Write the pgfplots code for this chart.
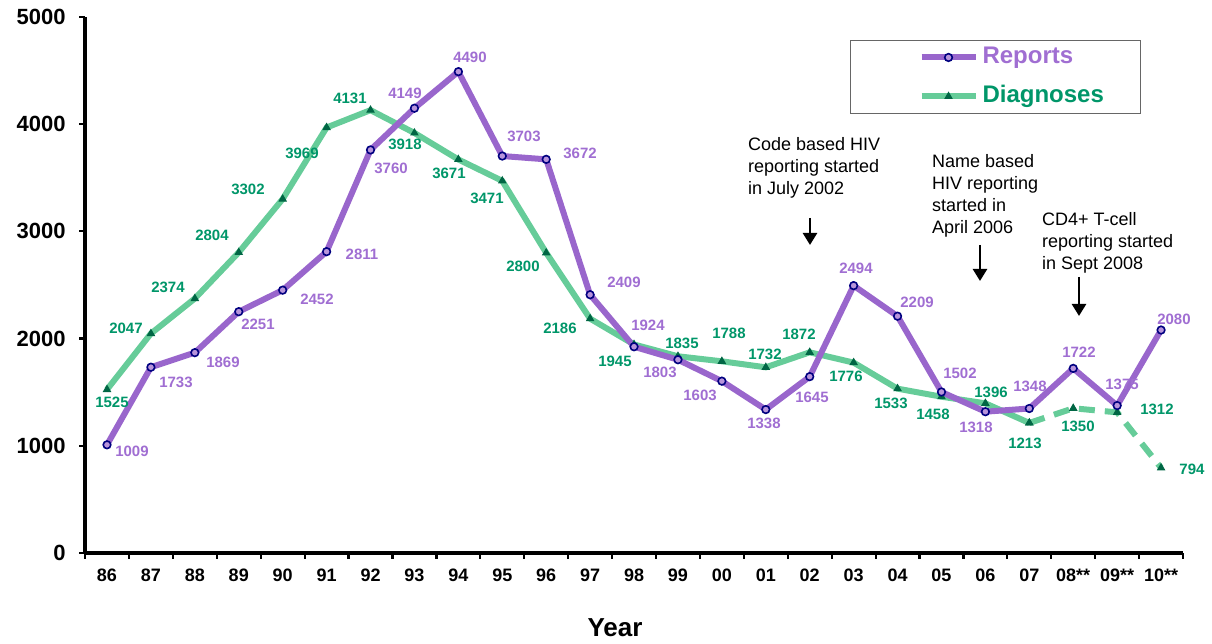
\documentclass[border=0pt]{standalone}
\usepackage{fontspec}
\setmainfont{Liberation Sans}
\usepackage{pgfplots}
\pgfplotsset{compat=1.18}
\usetikzlibrary{arrows.meta}
\definecolor{rline}{RGB}{153,102,204}
\definecolor{rtext}{RGB}{160,110,210}
\definecolor{rmark}{RGB}{0,0,128}
\definecolor{dline}{RGB}{102,204,153}
\definecolor{dtext}{RGB}{0,150,105}
\definecolor{dmark}{RGB}{0,102,68}
% label placed by pixel position of the reference
\newcommand{\lab}[4]{\node[text=#4,font=\fontsize{15}{18}\selectfont\bfseries,inner sep=0pt] at (axis cs:{(#1-107)/43.92},{(553-#2)*9.32836}) {#3};}
\newcommand{\arr}[3]{\draw[black,line width=2.5pt,-{Triangle[width=14pt,length=12pt]}] (axis cs:{(#1-107)/43.92},{(553-#2)*9.32836}) -- (axis cs:{(#1-107)/43.92},{(553-#3)*9.32836});}
\newcommand{\note}[4]{\node[anchor=north west,align=left,inner sep=0pt,font=\fontsize{18}{22}\selectfont] at (axis cs:{(#1-107)/43.92},{(553-#2)*9.32836}) {#3};}
\begin{document}
\begin{tikzpicture}[x=1pt,y=1pt]
\path[use as bounding box] (0pt,0pt) rectangle (1212pt,644pt);
\begin{axis}[
  at={(107pt,91pt)}, anchor=origin,
  scale only axis, width=1098pt, height=536pt,
  xmin=-0.5, xmax=24.5, ymin=0, ymax=5000,
  axis x line*=bottom, axis y line*=left,
  axis line style={line width=4pt,-},
  tick align=outside,
  xtick={-0.5,0.5,...,24.5}, xticklabels={},
  extra x ticks={0,1,...,24},
  extra x tick labels={86,87,88,89,90,91,92,93,94,95,96,97,98,99,00,01,02,03,04,05,06,07,08**,09**,10**},
  extra x tick style={major tick length=0pt, tick style={draw=none}, grid=none,
     tick label style={font=\fontsize{18}{20}\selectfont\bfseries, yshift=-12pt}},
  ytick={0,1000,...,5000},
  yticklabels={0,1000,2000,3000,4000,5000},
  yticklabel style={font=\fontsize{22}{26}\selectfont\bfseries, xshift=-10pt},
  major tick length=6pt,
  tick style={line width=2.2pt,black},
  xlabel={Year},
  xlabel style={font=\fontsize{26}{30}\selectfont\bfseries, at={(axis description cs:0.4827,-0.14)}, anchor=center},
  legend cell align=left,
  reverse legend,
  legend style={at={(rel axis cs:0.6967,0.9571)}, anchor=north west,
     draw=black!60, line width=1pt, inner xsep=0pt, inner ysep=6pt, row sep=17pt,
     font=\fontsize{24}{28}\selectfont\bfseries,
     nodes={text height=17pt, text depth=5pt, inner sep=0pt, anchor=west},
     /tikz/every odd column/.append style={column sep=4pt}},
  legend image code/.code={\path[draw=none,fill=none] (-71pt,0pt)--(0pt,0pt);
     \draw[mark repeat=2,mark phase=2] plot coordinates {(0pt,0pt)(27pt,0pt)(54pt,0pt)};},
  clip=false,
]
\addplot[dline, line width=6pt, mark=triangle*, mark size=4pt,
  mark options={draw=dmark, fill=dmark, line width=1pt, solid}]
  coordinates {(0,1525)(1,2047)(2,2374)(3,2804)(4,3302)(5,3969)(6,4131)(7,3918)(8,3671)(9,3471)(10,2800)(11,2186)(12,1945)(13,1835)(14,1788)(15,1732)(16,1872)(17,1776)(18,1533)(19,1458)(20,1396)(21,1213)};
\addlegendentry{\makebox[158pt][l]{\textcolor{dtext}{Diagnoses}}}
\addplot[dline, line width=6pt, dash pattern=on 16pt off 10pt, mark=triangle*, mark size=4pt,
  mark options={draw=dmark, fill=dmark, line width=1pt, solid}, forget plot]
  coordinates {(21,1213)(22,1350)(23,1312)(24,794)};
\addplot[rline, line width=6pt, mark=*, mark size=3.8pt,
  mark options={draw=rmark, fill=rline!70!white, line width=1.6pt, solid}]
  coordinates {(0,1009)(1,1733)(2,1869)(3,2251)(4,2452)(5,2811)(6,3760)(7,4149)(8,4490)(9,3703)(10,3672)(11,2409)(12,1924)(13,1803)(14,1603)(15,1338)(16,1645)(17,2494)(18,2209)(19,1502)(20,1318)(21,1348)(22,1722)(23,1375)(24,2080)};
\addlegendentry{\makebox[158pt][l]{\textcolor{rtext}{Reports}}}
% Reports labels
\lab{132}{451}{1009}{rtext}
\lab{176}{382}{1733}{rtext}
\lab{223}{362}{1869}{rtext}
\lab{258}{324}{2251}{rtext}
\lab{317}{299}{2452}{rtext}
\lab{362}{254}{2811}{rtext}
\lab{391}{168}{3760}{rtext}
\lab{405}{93}{4149}{rtext}
\lab{470}{57}{4490}{rtext}
\lab{524}{136}{3703}{rtext}
\lab{580}{153}{3672}{rtext}
\lab{624}{282}{2409}{rtext}
\lab{648}{325}{1924}{rtext}
\lab{660}{372}{1803}{rtext}
\lab{700}{395}{1603}{rtext}
\lab{764}{423}{1338}{rtext}
\lab{812}{397}{1645}{rtext}
\lab{856}{268}{2494}{rtext}
\lab{917}{302}{2209}{rtext}
\lab{960}{373}{1502}{rtext}
\lab{976}{427}{1318}{rtext}
\lab{1030}{386}{1348}{rtext}
\lab{1079}{352}{1722}{rtext}
\lab{1122}{384}{1375}{rtext}
\lab{1174}{319}{2080}{rtext}
% Diagnoses labels
\lab{112}{402}{1525}{dtext}
\lab{126}{328}{2047}{dtext}
\lab{168}{287}{2374}{dtext}
\lab{212}{235}{2804}{dtext}
\lab{248}{189}{3302}{dtext}
\lab{302}{153}{3969}{dtext}
\lab{350}{98}{4131}{dtext}
\lab{405}{144}{3918}{dtext}
\lab{449}{173}{3671}{dtext}
\lab{487}{198}{3471}{dtext}
\lab{523}{266}{2800}{dtext}
\lab{560}{328}{2186}{dtext}
\lab{615}{361}{1945}{dtext}
\lab{682}{343}{1835}{dtext}
\lab{729}{333}{1788}{dtext}
\lab{765}{354}{1732}{dtext}
\lab{799}{334}{1872}{dtext}
\lab{846}{376}{1776}{dtext}
\lab{891}{403}{1533}{dtext}
\lab{933}{414}{1458}{dtext}
\lab{991}{392}{1396}{dtext}
\lab{1025}{443}{1213}{dtext}
\lab{1078}{426}{1350}{dtext}
\lab{1157}{409}{1312}{dtext}
\lab{1192}{469}{794}{dtext}
% annotations
\note{748}{137}{Code based HIV\\reporting started\\in July 2002}{}
\arr{810}{218}{245}
\note{932}{154}{Name based\\HIV reporting\\started in\\April 2006}{}
\arr{980}{245}{281}
\note{1042}{212}{CD4+ T-cell\\reporting started\\in Sept 2008}{}
\arr{1079}{277}{316}
\end{axis}
\end{tikzpicture}
\end{document}
